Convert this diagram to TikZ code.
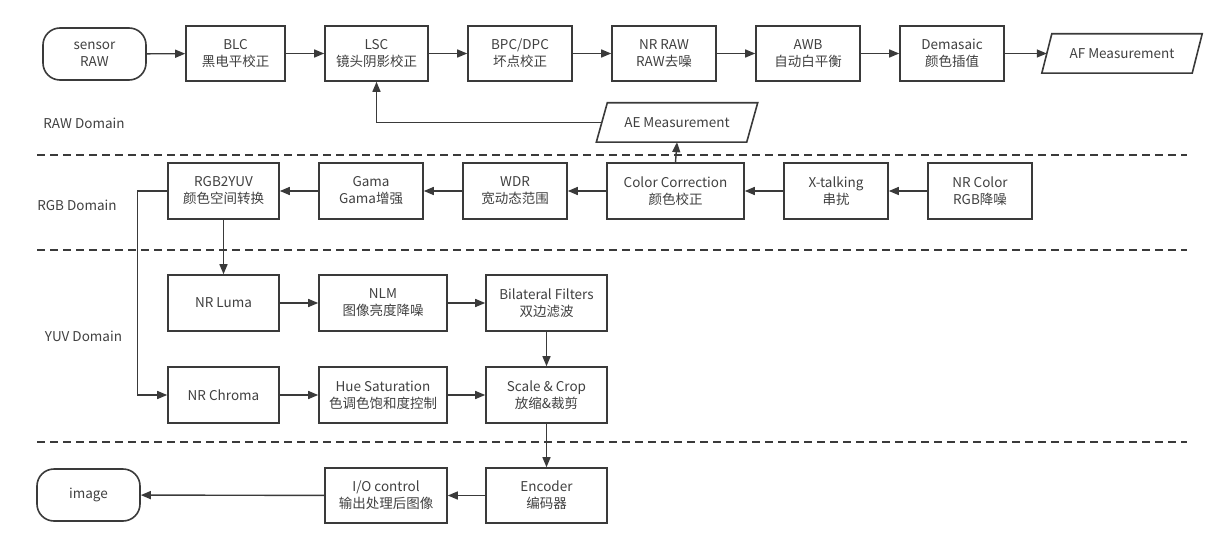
\documentclass[tikz,border=0pt]{standalone}
\usepackage{fontspec}
\setmainfont{Noto Sans CJK SC}
\usetikzlibrary{arrows.meta}
\definecolor{ln}{HTML}{3A3A3A}
\definecolor{tx}{HTML}{404040}
\begin{document}
\begin{tikzpicture}[x=1pt,y=-1pt,
  base/.style={inner sep=0pt, align=center, text=tx, font=\fontsize{13.5}{17}\selectfont},
  box/.style={base, draw=ln, line width=1.6pt},
  term/.style={box, rounded corners=17pt, minimum width=103pt, minimum height=52pt},
  para/.style={base, minimum width=150pt, minimum height=39pt},
  arr/.style={draw=ln, line width=1.4pt, -{Triangle[length=10pt,width=8pt]}},
  dline/.style={draw=ln, line width=1.6pt, dash pattern=on 8pt off 5pt},
  lbl/.style={base}
]
\useasboundingbox (0,0) rectangle (1228,548);
% dashed separators
\draw[dline] (37,155) -- (1187,155);
\draw[dline] (37,250) -- (1187,250);
\draw[dline] (37,442) -- (1187,442);
% domain labels
\node[lbl] (lraw) at (84,123) {RAW Domain};
\node[lbl] (lrgb) at (77,205) {RGB Domain};
\node[lbl] (lyuv) at (83.5,336) {YUV Domain};
% row 1
\node[term] (sensor) at (94.5,54) {sensor\\RAW};
\node[box, minimum width=99pt, minimum height=55pt] (blc) at (235.5,53.5) {BLC\\黑电平校正};
\node[box, minimum width=103pt, minimum height=55pt] (lsc) at (376.5,53.5) {LSC\\镜头阴影校正};
\node[box, minimum width=104pt, minimum height=55pt] (bpc) at (520,53.5) {BPC/DPC\\坏点校正};
\node[box, minimum width=104pt, minimum height=55pt] (nrraw) at (664,53.5) {NR RAW\\RAW去噪};
\node[box, minimum width=104pt, minimum height=55pt] (awb) at (808,53.5) {AWB\\自动白平衡};
\node[box, minimum width=104pt, minimum height=55pt] (dem) at (952,53.5) {Demasaic\\颜色插值};
\node[para] (af) at (1122,53.5) {AF Measurement};
\draw[ln, line width=1.6pt] ([xshift=5pt]af.north west) -- ([xshift=5pt]af.north east) -- ([xshift=-5pt]af.south east) -- ([xshift=-5pt]af.south west) -- cycle;
\node[para] (ae) at (677,122.5) {AE Measurement};
\draw[ln, line width=1.6pt] ([xshift=5.5pt]ae.north west) -- ([xshift=5.5pt]ae.north east) -- ([xshift=-5.5pt]ae.south east) -- ([xshift=-5.5pt]ae.south west) -- cycle;
% row 2
\node[box, minimum width=111pt, minimum height=56pt] (rgb) at (223.5,191) {RGB2YUV\\颜色空间转换};
\node[box, minimum width=104pt, minimum height=56pt] (gama) at (371,191) {Gama\\Gama增强};
\node[box, minimum width=104pt, minimum height=56pt] (wdr) at (515,191) {WDR\\宽动态范围};
\node[box, minimum width=137pt, minimum height=56pt] (cc) at (675.5,191) {Color Correction\\颜色校正};
\node[box, minimum width=104pt, minimum height=56pt] (xt) at (836,191) {X-talking\\串扰};
\node[box, minimum width=104pt, minimum height=56pt] (nrc) at (980,191) {NR Color\\RGB降噪};
% row 3
\node[box, minimum width=111pt, minimum height=56pt] (luma) at (223.5,303) {NR Luma};
\node[box, minimum width=128pt, minimum height=56pt] (nlm) at (383,303) {NLM\\图像亮度降噪};
\node[box, minimum width=121pt, minimum height=56pt] (bil) at (546.5,303) {Bilateral Filters\\双边滤波};
% row 4
\node[box, minimum width=111pt, minimum height=56pt] (chroma) at (223.5,395) {NR Chroma};
\node[box, minimum width=128pt, minimum height=56pt] (hue) at (383,395) {Hue Saturation\\色调色饱和度控制};
\node[box, minimum width=121pt, minimum height=56pt] (scale) at (546.5,395) {Scale \& Crop\\放缩\&裁剪};
% row 5
\node[box, minimum width=121pt, minimum height=55pt] (enc) at (546.5,495.5) {Encoder\\编码器};
\node[box, minimum width=122pt, minimum height=55pt] (io) at (386,495.5) {I/O control\\输出处理后图像};
\node[term] (img) at (88.5,495) {image};
% connectors
\draw[arr] (sensor) -- (blc);
\draw[arr] (blc) -- (lsc);
\draw[arr] (lsc) -- (bpc);
\draw[arr] (bpc) -- (nrraw);
\draw[arr] (nrraw) -- (awb);
\draw[arr] (awb) -- (dem);
\draw[arr] (dem.east) -- (af.west);
\draw[arr] (ae.west) -| (lsc.south);
\draw[arr] (cc.north) -- (ae.south);
\draw[arr] (nrc) -- (xt);
\draw[arr] (xt) -- (cc);
\draw[arr] (cc) -- (wdr);
\draw[arr] (wdr) -- (gama);
\draw[arr] (gama) -- (rgb);
\draw[arr] (rgb.south) -- (luma.north);
\draw[arr] (rgb.west) -- ++(-30,0) |- (chroma.west);
\draw[arr] (luma) -- (nlm);
\draw[arr] (nlm) -- (bil);
\draw[arr] (bil) -- (scale);
\draw[arr] (chroma) -- (hue);
\draw[arr] (hue) -- (scale);
\draw[arr] (scale) -- (enc);
\draw[arr] (enc) -- (io);
\draw[arr] (io) -- (img);
\end{tikzpicture}
\end{document}
